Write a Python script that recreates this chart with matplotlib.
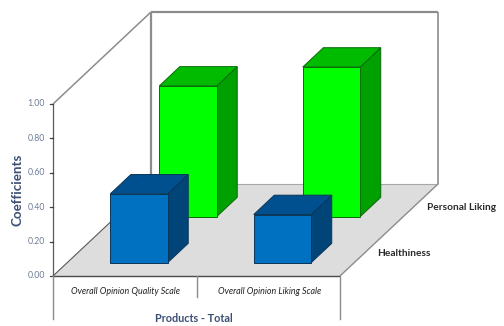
import matplotlib
matplotlib.use('Agg')
import matplotlib.pyplot as plt
from matplotlib.patches import Polygon

# ___DATA___ #
CATEGORIES = ['Overall Opinion Quality Scale', 'Overall Opinion Liking Scale']
SERIES = ['Healthiness', 'Personal Liking']
HEALTHINESS = [0.40, 0.28]
PERSONAL_LIKING = [0.76, 0.87]
Y_TICKS = [0.00, 0.20, 0.40, 0.60, 0.80, 1.00]

# ___CONSTANTS___ #
ORIGIN = (53, 276)      # front left floor corner, in pixels
CAT_STEP = 143.5        # pixels per category along x
DEPTH_STEP = (49, -46)  # pixels per series going back
VALUE_STEP = 172        # pixels per 1.0 of value
BAR_WIDTH = 0.40
BAR_DEPTH = 0.42

BLUE = ('#0070C0', '#00508F', '#004478', '#0B3557')   # front, top, side, edge
GREEN = ('#00FF00', '#00BB00', '#00A000', '#0A6A0A')
FLOOR = '#DDDDDD'
WALL = '#8C8C8C'
EDGE = '#5A5A5A'
TICK_COLOR = '#6F7D98'
TITLE_COLOR = '#3B4F75'


def project(cat, depth, value):
    # oblique projection of (category, series, value) on to the page
    px = ORIGIN[0] + CAT_STEP * cat + DEPTH_STEP[0] * depth
    py = ORIGIN[1] + DEPTH_STEP[1] * depth - VALUE_STEP * value
    return px, py


def draw_bar(ax, cat, series, value, colors):
    x0 = cat + 0.5 - BAR_WIDTH / 2
    x1 = cat + 0.5 + BAR_WIDTH / 2
    d0 = series + 0.5 - BAR_DEPTH / 2
    d1 = series + 0.5 + BAR_DEPTH / 2
    faces = [
        ([(x1, d0, 0), (x1, d1, 0), (x1, d1, value), (x1, d0, value)], colors[2]),
        ([(x0, d0, value), (x1, d0, value), (x1, d1, value), (x0, d1, value)], colors[1]),
        ([(x0, d0, 0), (x1, d0, 0), (x1, d0, value), (x0, d0, value)], colors[0]),
    ]
    for corners, color in faces:
        # bars sit above the walls and floor lines
        ax.add_patch(Polygon([project(*c) for c in corners], closed=True,
                             facecolor=color, edgecolor=colors[3], linewidth=0.7,
                             zorder=3))


def line(ax, start, end, color=WALL, lw=1.0):
    (x0, y0), (x1, y1) = project(*start), project(*end)
    ax.plot([x0, x1], [y0, y1], color=color, lw=lw, solid_capstyle='butt', zorder=2)


def main():
    fig = plt.figure(figsize=(5.04, 3.26), dpi=100)
    ax = fig.add_axes([0, 0, 1, 1])
    ax.set_xlim(0, 504)
    ax.set_ylim(326, 0)
    ax.axis('off')

    n_cat, n_series = len(CATEGORIES), len(SERIES)

    # floor
    floor = [(0, 0, 0), (n_cat, 0, 0), (n_cat, n_series, 0), (0, n_series, 0)]
    ax.add_patch(Polygon([project(*c) for c in floor], closed=True,
                         facecolor=FLOOR, edgecolor='none', zorder=1))

    # walls
    line(ax, (0, n_series, 0), (0, n_series, 1), lw=1.6)
    line(ax, (n_cat, n_series, 0), (n_cat, n_series, 1), lw=1.2)
    line(ax, (0, n_series, 1), (n_cat, n_series, 1), lw=1.6)
    line(ax, (0, 0, 1), (0, n_series, 1), lw=1.1)
    line(ax, (0, n_series, 0), (n_cat, n_series, 0), color='#A8A8A8', lw=0.8)
    line(ax, (0, 0, 0), (0, n_series, 0), color=EDGE, lw=0.8)
    line(ax, (n_cat, 0, 0), (n_cat, n_series, 0), color=WALL, lw=1.0)

    # value axis and ticks
    line(ax, (0, 0, 0), (0, 0, 1), color=EDGE, lw=0.9)
    for tick in Y_TICKS:
        px, py = project(0, 0, tick)
        ax.plot([px - 3, px], [py, py], color='#404040', lw=0.9, zorder=2)
        ax.text(px - 8, py, f'{tick:.2f}', ha='right', va='center',
                fontsize=6.3, color=TICK_COLOR, family='Lato')

    # bars, back row first
    for cat in range(n_cat):
        draw_bar(ax, cat, 1, PERSONAL_LIKING[cat], GREEN)
    for cat in range(n_cat):
        draw_bar(ax, cat, 0, HEALTHINESS[cat], BLUE)

    # category axis under the floor
    line(ax, (0, 0, 0), (n_cat, 0, 0), color='#4A4A4A', lw=1.0)
    for cat in range(n_cat + 1):
        px, py = project(cat, 0, 0)
        drop = 21 if cat == 1 else 43
        ax.plot([px, px], [py, py + drop], color=WALL, lw=1.0, zorder=2)
    for cat, label in enumerate(CATEGORIES):
        px, py = project(cat + 0.5, 0, 0)
        ax.text(px + 1, py + 15, label, ha='center', va='center', fontsize=6.4,
                style='italic', color='#222222', family='Lato')

    # series labels
    ax.text(377, 253, SERIES[0], ha='left', va='center', fontsize=7.3,
            fontweight='bold', color='#2A2A2A', family='Lato')
    ax.text(427, 208, SERIES[1], ha='left', va='center', fontsize=7.3,
            fontweight='bold', color='#2A2A2A', family='Lato')

    # axis titles
    ax.text(17, 190, 'Coefficients', rotation=90, ha='center', va='center',
            fontsize=9.6, fontweight='bold', color=TITLE_COLOR, family='Lato')
    ax.text(194, 319, 'Products - Total', ha='center', va='center',
            fontsize=7.8, fontweight='bold', color=TITLE_COLOR, family='Lato')

    fig.savefig('out.png', dpi=100)


if __name__ == '__main__':
    main()
